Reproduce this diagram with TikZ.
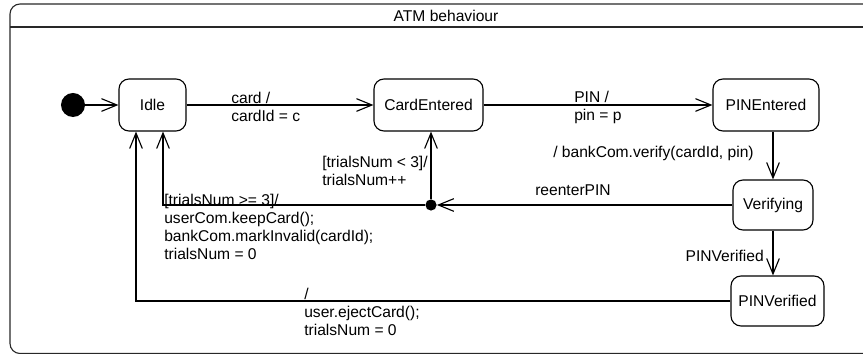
\documentclass[tikz,border=0pt]{standalone}
\usepackage{fontspec}
\setmainfont{Liberation Sans}
\usetikzlibrary{arrows.meta}
\definecolor{framegray}{RGB}{40, 40, 40}

\begin{document}
\begin{tikzpicture}[
        x=0.025cm, y=-0.025cm,
        % Node styles
        statebox/.style={draw=black, thick, rounded corners=0.25cm, minimum height=1.3cm, inner sep=0pt, font=\fontsize{11.1}{12.8}\selectfont},
        startdot/.style={circle, fill=black, minimum size=0.6cm, inner sep=0pt},
        choice/.style={circle, fill=black, minimum size=0.28cm, inner sep=0pt},
        guard/.style={align=left, inner sep=0pt, font=\fontsize{11.1}{12.8}\selectfont},
        heading/.style={inner sep=0pt, font=\fontsize{11.1}{12.8}\selectfont},
        trans/.style={thick, -{Straight Barb[length=11pt, width=9pt]}}
    ]

    \useasboundingbox (0,0) rectangle (863,354);
    \clip (0,0) rectangle (863,354);

    % Frame with title
    \draw[thick, framegray, rounded corners=0.25cm] (10,4) rectangle (882,353.5);
    \draw[thick, framegray] (10,27) -- (882,27);
    \node[heading] (title) at (446,16) {ATM behaviour};

    % States
    \node[startdot] (init) at (73,105) {};
    \node[statebox, minimum width=1.675cm] (idle) at (152.5,105) {Idle};
    \node[statebox, minimum width=2.725cm] (card) at (428.5,105) {CardEntered};
    \node[statebox, minimum width=2.65cm] (pinent) at (766,105) {PINEntered};
    \node[statebox, minimum width=2cm, minimum height=1.25cm] (verif) at (773,205) {Verifying};
    \node[statebox, minimum width=2.325cm, minimum height=1.25cm] (pinver) at (777.5,301) {PINVerified};
    \node[choice] (junc) at (431,205) {};
    \coordinate (retry) at (163,205);
    \coordinate (eject) at (136,301);

    % Transitions
    \draw[trans] (init) -- (idle);
    \draw[trans] (idle) -- (card);
    \draw[trans] (card) -- (pinent);
    \draw[trans] (verif.north |- pinent.south) -- (verif.north);
    \draw[trans] (verif.south) -- (verif.south |- pinver.north);
    \draw[trans] (verif) -- (junc);
    \draw[trans] (junc) -- (junc |- card.south);
    \draw[trans] (junc) -- (retry) -- (retry |- idle.south);
    \draw[trans] (pinver) -- (eject) -- (eject |- idle.south);

    % Transition labels
    \node[guard, anchor=west] (lcard) at (231,106.5) {card /\\cardId = c};
    \node[guard, anchor=west] (lpin) at (574,107) {PIN /\\pin = p};
    \node[guard, anchor=west] (lverify) at (553,153) {/ bankCom.verify(cardId, pin)};
    \node[guard, anchor=east] (lverified) at (764,256) {PINVerified};
    \node[guard] (lreenter) at (573,190) {reenterPIN};
    \node[guard, anchor=west] (lretry) at (322,171) {[trialsNum < 3]/\\trialsNum++};
    \node[guard, anchor=west] (lkeep) at (164,227) {[trialsNum >= 3]/\\userCom.keepCard();\\bankCom.markInvalid(cardId);\\trialsNum = 0};
    \node[guard, anchor=west] (leject) at (304,312) {/\\user.ejectCard();\\trialsNum = 0};

\end{tikzpicture}
\end{document}
